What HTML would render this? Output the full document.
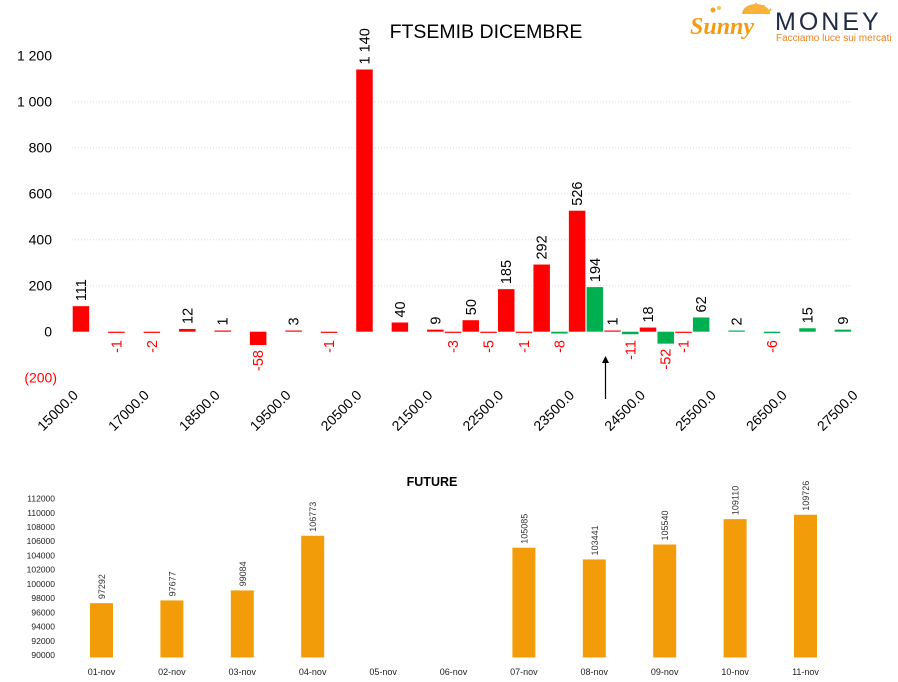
<!DOCTYPE html>
<html><head><meta charset="utf-8"><style>
html,body{margin:0;padding:0;background:#fff;width:898px;height:682px;overflow:hidden}
svg{display:block;font-family:"Liberation Sans","DejaVu Sans",sans-serif}
</style></head><body>
<svg id="root" width="898" height="682" viewBox="0 0 898 682" xmlns="http://www.w3.org/2000/svg">
  <text x="486" y="38" text-anchor="middle" font-size="19.5" fill="#000">FTSEMIB DICEMBRE</text>
  <g>
    <path d="M742 14 A14 10 0 0 1 770 14 Z" fill="#f7a21b" opacity="0.85"/>
    <path d="M748 6 L752 12 M756 3 L757 11 M764 5 L762 12 M771 9 L766 14" stroke="#f7b733" stroke-width="2"/>
    <circle cx="713" cy="10" r="2.5" fill="#f7a21b"/><circle cx="719" cy="8" r="2" fill="#f7c15a"/>
    <text x="690" y="34" font-size="24" font-style="italic" font-weight="bold" fill="#f39c12" font-family="Liberation Serif,serif">Sunny</text>
    <text x="775" y="30" font-size="25" fill="#1f2a44" letter-spacing="3">MONEY</text>
    <text x="776" y="41" font-size="10" fill="#e8821e">Facciamo luce sui mercati</text>
  </g>
  <g id="topchart"></g>
  <line x1="605.5" y1="399" x2="605.5" y2="362" stroke="#000" stroke-width="1.2"/>
  <path d="M602 363 L605.5 356 L609 363 Z" fill="#000"/>
  <text x="432" y="486" text-anchor="middle" font-size="12.5" font-weight="bold" fill="#000">FUTURE</text>
  <g id="bottomchart"></g>
</svg>
<script>
// ---- Top chart data ----
const strikes = ["15000.0","15500.0","16000.0","16500.0","17000.0","17500.0","18000.0","18250.0","18500.0","18750.0","19000.0","19250.0","19500.0","19750.0","20000.0","20250.0","20500.0","20750.0","21000.0","21250.0","21500.0","21750.0","22000.0","22250.0","22500.0","22750.0","23000.0","23250.0","23500.0","23750.0","24000.0","24250.0","24500.0","24750.0","25000.0","25250.0","25500.0","25750.0","26000.0","26250.0","26500.0","26750.0","27000.0","27250.0","27500.0"];
const putValues = [111,null,-1,null,-2,null,12,null,1,null,-58,null,3,null,-1,null,1140,null,40,null,9,-3,50,-5,185,-1,292,null,526,null,1,null,18,null,-1,null,null,null,null,null,null,null,null,null,null];
const callValues = [null,null,null,null,null,null,null,null,null,null,null,null,null,null,null,null,null,null,null,null,null,null,null,null,null,null,null,-8,null,194,null,-11,null,-52,null,62,null,2,null,-6,null,15,null,9,null];
const yTicks = [1200,1000,800,600,400,200,0,-200];
const yTickLabels = ["1 200","1 000","800","600","400","200","0","(200)"];

// ---- Bottom chart data ----
const days = ["01-nov","02-nov","03-nov","04-nov","05-nov","06-nov","07-nov","08-nov","09-nov","10-nov","11-nov"];
const futureValues = [97292,97677,99084,106773,null,null,105085,103441,105540,109110,109726];
const fTicks = [90000,92000,94000,96000,98000,100000,102000,104000,106000,108000,110000,112000];

const NS = "http://www.w3.org/2000/svg";
function mk(tag, attrs, parent, txt){
  const e = document.createElementNS(NS, tag);
  for (const k in attrs) e.setAttribute(k, attrs[k]);
  if (txt !== undefined) e.textContent = txt;
  parent.appendChild(e); return e;
}
function fmt(v){ const s = String(Math.abs(v)); const t = s.length > 3 ? s.slice(0, s.length-3) + " " + s.slice(-3) : s; return (v<0?"-":"") + t; }

const topG = document.getElementById("topchart");
const slotW = 17.72, x0 = 72.1, yZero = 331.7, kY = 0.23;
const xS = i => x0 + slotW * i + slotW/2;
const yS = v => yZero - v * kY;
yTicks.forEach((t, i) => {
  if (t > 0 && t < 1200) {
    const g = mk("line", {x1:72, x2:852, y1:yS(t), y2:yS(t), stroke:"#d9d9d9", "stroke-width":1, "stroke-dasharray":"1,2"}, topG);
    
    
  }
  const lb = mk("text", {x: t < 0 ? 57 : 52, y: yS(t) + 5, "text-anchor":"end", "font-size":14, fill: t < 0 ? "#ff0000" : "#000"}, topG, yTickLabels[i]);
  
  
});
strikes.forEach((s, i) => {
  if (i % 4 !== 0) return;
  const x = xS(i) - 2, y = 396;
  const t = mk("text", {x:x, y:y, "text-anchor":"end", "font-size":14, fill:"#000", transform:`rotate(-45 ${x} ${y})`}, topG, s);
  
  
});
function drawSeries(vals, color, name){
  vals.forEach((v, i) => {
    if (v === null) return;
    const cx = xS(i), bw = 16.5;
    const h = Math.max(Math.abs(yS(v) - yZero), 1.2);
    const r = mk("rect", {x: cx - bw/2, y: v >= 0 ? yZero - h : yZero, width: bw, height: h, fill: color}, topG);
    
    
    let lx = cx + 5, ly, anchor;
    if (v >= 0) { ly = yZero - h - 5; anchor = "start"; }
    else { ly = Math.max(yZero + h + 5, 340); anchor = "end"; }
    const t = mk("text", {x: lx, y: ly, "text-anchor": anchor, "font-size": 14.5, fill: v >= 0 ? "#000" : "#ff0000", transform: `rotate(-90 ${lx} ${ly})`}, topG, fmt(v));
    
    
  });
}
drawSeries(putValues, "#ff0000", "put");
drawSeries(callValues, "#00b050", "call");

const botG = document.getElementById("bottomchart");
const fx0 = 66.3, fStep = 70.4, fBase = 655, fK = 7.11 / 1000;
const fx = i => fx0 + fStep * i + fStep/2;
const fy = v => fBase - (v - 90000) * fK;
fTicks.forEach(t => {
  const lb = mk("text", {x:55, y: fy(t) + 3, "text-anchor":"end", "font-size":8.5, fill:"#222"}, botG, String(t));
  
  
});
days.forEach((d, i) => {
  const lb = mk("text", {x: fx(i), y: 675, "text-anchor":"middle", "font-size":9, fill:"#222"}, botG, d);
  
  
  const v = futureValues[i];
  if (v === null) return;
  const r = mk("rect", {x: fx(i) - 11.5, y: fy(v), width: 23, height: fBase + 2.5 - fy(v), fill:"#f39c0a"}, botG);
  
  
  const lx = fx(i) + 3.5, ly = fy(v) - 4;
  const t = mk("text", {x: lx, y: ly, "font-size":9, fill:"#333", transform:`rotate(-90 ${lx} ${ly})`}, botG, String(v));
  
  
});
</script>
</body></html>
